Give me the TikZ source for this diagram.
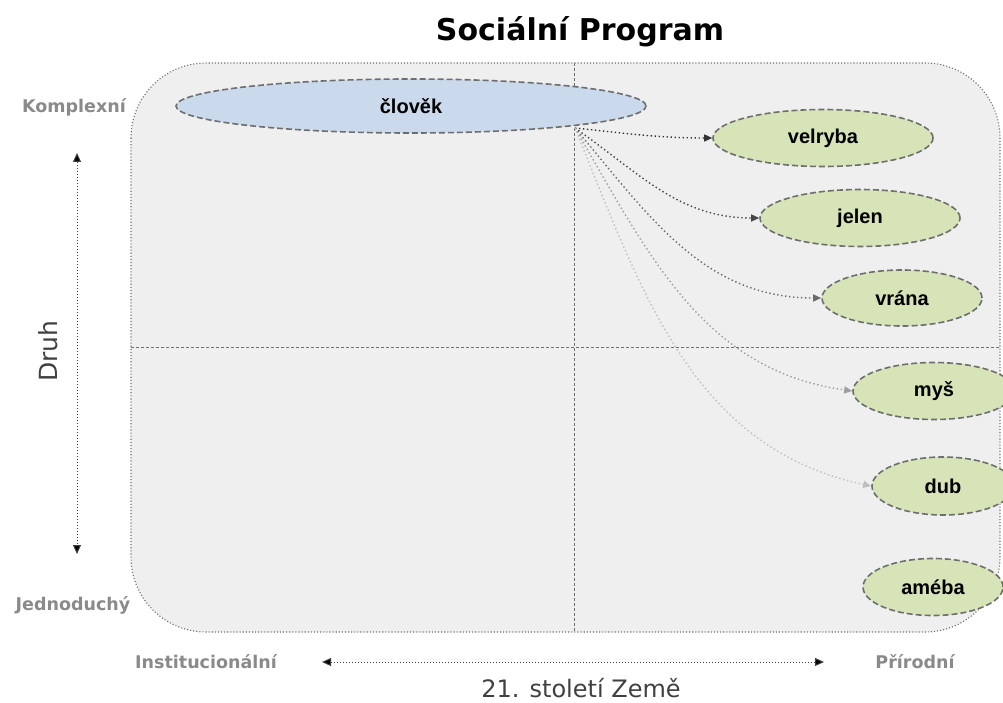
\documentclass[tikz,border=0pt]{standalone}
\usepackage{fontspec}
\setmainfont{DejaVu Sans}
\newfontfamily\lblfont{Liberation Sans}
\usetikzlibrary{shapes.geometric,arrows.meta}
\definecolor{boxfill}{HTML}{EFEFEF}
\definecolor{bluefill}{HTML}{CBD9EC}
\definecolor{greenfill}{HTML}{D7E4B8}
\definecolor{edgegray}{HTML}{6E6E6E}
\definecolor{labelgray}{HTML}{8A8A8A}
\definecolor{darktext}{HTML}{404040}
\tikzset{
  blob/.style={ellipse, draw=edgegray, line width=1.6pt, dash pattern=on 6pt off 3pt,
    inner sep=0pt, font=\lblfont\bfseries\fontsize{20}{24}\selectfont, text=black},
  animal/.style={blob, fill=greenfill},
  divider/.style={draw=edgegray, line width=0.9pt, dash pattern=on 3pt off 2pt},
  link/.style={line width=1.4pt, dash pattern=on 1.4pt off 2.6pt,
    -{Triangle[length=8pt,width=7pt]}},
  axisarrow/.style={line width=1pt, draw=darktext, dash pattern=on 1pt off 2pt,
    {Triangle[length=9pt,width=8pt,fill=black]}-{Triangle[length=9pt,width=8pt,fill=black]}},
  sidelabel/.style={font=\bfseries\fontsize{17.5}{21}\selectfont, text=labelgray, inner sep=0pt},
  axistitle/.style={font=\fontsize{25}{30}\selectfont, text=darktext, inner sep=0pt},
}
\begin{document}
\begin{tikzpicture}[x=1pt,y=-1pt]
\useasboundingbox (0,0) rectangle (1003,703);
% frame
\draw[fill=boxfill, draw=edgegray, line width=1.1pt, dash pattern=on 1.1pt off 2pt, rounded corners=75pt]
  (131,63) rectangle (1000,632);
\coordinate (vtop) at (574,63);
\coordinate (vbot) at (574,632);
\coordinate (hl) at (131,347);
\coordinate (hr) at (1000,347);
\draw[divider] (vtop) -- (vbot);
\draw[divider] (hl) -- (hr);
% title
\node[font=\bfseries\fontsize{30}{36}\selectfont, inner sep=0pt] (title) at (580,32) {Sociální Program};
% ellipses
\node[blob, fill=bluefill, minimum width=470pt, minimum height=54pt] (clovek) at (411,106) {člověk};
\node[animal, minimum width=220pt, minimum height=57pt] (velryba) at (823,138) {velryba};
\node[animal, minimum width=200pt, minimum height=57pt] (jelen) at (860,218) {jelen};
\node[animal, minimum width=160pt, minimum height=56pt] (vrana) at (902,298) {vrána};
\node[animal, minimum width=162pt, minimum height=57pt] (mys) at (934,391) {myš};
\node[animal, minimum width=142pt, minimum height=58pt] (dub) at (943,486) {dub};
\node[animal, minimum width=140pt, minimum height=57pt] (ameba) at (933,587) {améba};
% links
\coordinate (src) at (575,128);
\draw[link, color=black!80] (src) to[out=-6, in=180] (velryba.west);
\draw[link, color=black!72] (src) to[out=-35, in=180] (jelen.west);
\draw[link, color=black!58] (src) to[out=-50, in=180] (vrana.west);
\draw[link, color=black!38] (src) to[out=-60, in=172] (mys.west);
\draw[link, color=black!25] (src) to[out=-68, in=168] (dub.west);
% axes labels
\node[sidelabel] (komplex) at (74,107) {Komplexní};
\node[sidelabel] (jedno) at (73,605) {Jednoduchý};
\coordinate (vatop) at (77,153);
\coordinate (vabot) at (77,554);
\draw[axisarrow] (vatop) -- (vabot);
\node[axistitle, rotate=90] (druh) at (48,351) {Druh};
\node[sidelabel] (inst) at (206,662) {Institucionální};
\node[sidelabel] (prir) at (915,662) {Přírodní};
\coordinate (hal) at (322,662);
\coordinate (har) at (824,662);
\draw[axisarrow] (hal) -- (har);
\node[axistitle, font=\fontsize{24}{29}\selectfont] (zeme) at (581,688) {21. století Země};
\end{tikzpicture}
\end{document}
